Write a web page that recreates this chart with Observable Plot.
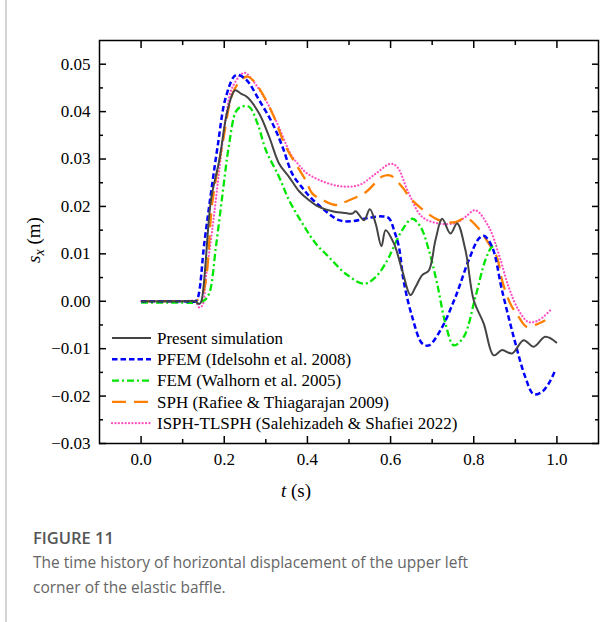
<!DOCTYPE html>
<html>
<head>
<meta charset="utf-8">
<script src="https://cdn.jsdelivr.net/npm/d3@7"></script>
<script src="https://cdn.jsdelivr.net/npm/@observablehq/plot@0.6"></script>
<style>
  html, body { margin: 0; padding: 0; background: #fff; }
  #wrap { position: relative; width: 613px; height: 622px; overflow: hidden; }
  #edge { position: absolute; left: 5px; top: 0; width: 1.5px; height: 622px; background: #d4d4d4; }
  #chart { position: absolute; left: 0; top: 0; }
  #cap { position: absolute; left: 33px; top: 526px; width: 560px; }
  #cap .fig { font-family: "Open Sans", sans-serif; font-weight: 600; font-size: 16.5px; color: #555; line-height: 24px; }
  #cap .txt { font-family: "Open Sans", sans-serif; font-weight: 400; font-size: 15.5px; color: #666; line-height: 25px; }
</style>
</head>
<body>
<div id="wrap">
  <div id="edge"></div>
  <div id="chart"></div>
  <div id="cap">
    <div class="fig">FIGURE 11</div>
    <div class="txt">The time history of horizontal displacement of the upper left<br>corner of the elastic baffle.</div>
  </div>
</div>
<script>
// ---- data (t in s, s_x in m) ----
const seriesNames = [
  "Present simulation",
  "PFEM (Idelsohn et al. 2008)",
  "FEM (Walhorn et al. 2005)",
  "SPH (Rafiee & Thiagarajan 2009)",
  "ISPH-TLSPH (Salehizadeh & Shafiei 2022)"
];

const presentT = [0, 0.05, 0.10, 0.13, 0.14, 0.145, 0.168, 0.188, 0.208, 0.226, 0.24, 0.255, 0.284, 0.308, 0.332, 0.356, 0.38, 0.404, 0.428, 0.46, 0.492, 0.508, 0.516, 0.536, 0.55, 0.564, 0.578, 0.588, 0.608, 0.628, 0.648, 0.66, 0.676, 0.692, 0.708, 0.724, 0.744, 0.76, 0.78, 0.80, 0.824, 0.848, 0.868, 0.892, 0.92, 0.944, 0.972, 1.0];
const presentS = [0, 0, 0, 0, -0.0006, 0, 0.0213, 0.0297, 0.0403, 0.0445, 0.0438, 0.0431, 0.0396, 0.0347, 0.029, 0.0262, 0.0232, 0.0213, 0.0199, 0.019, 0.0186, 0.0185, 0.019, 0.0171, 0.0194, 0.0164, 0.0116, 0.015, 0.0122, 0.0065, 0.0013, 0.003, 0.0055, 0.0065, 0.0129, 0.0174, 0.0143, 0.0164, 0.0108, 0.0002, -0.0047, -0.0114, -0.0103, -0.011, -0.0082, -0.0096, -0.0075, -0.0088];

const pfemT = [0, 0.10, 0.13, 0.136, 0.152, 0.168, 0.184, 0.204, 0.228, 0.252, 0.284, 0.316, 0.34, 0.364, 0.389, 0.404, 0.436, 0.476, 0.508, 0.548, 0.58, 0.596, 0.61, 0.62, 0.632, 0.652, 0.676, 0.692, 0.72, 0.756, 0.788, 0.812, 0.824, 0.844, 0.868, 0.896, 0.924, 0.944, 0.964, 0.98, 0.996];
const pfemS = [0, 0, 0, 0.0006, 0.0122, 0.0228, 0.0326, 0.0431, 0.0477, 0.0468, 0.0424, 0.0375, 0.0326, 0.0268, 0.0238, 0.0222, 0.0196, 0.0171, 0.0169, 0.0176, 0.0179, 0.0175, 0.0145, 0.0115, 0.0040, -0.0033, -0.0089, -0.0093, -0.0061, 0.0009, 0.0087, 0.0132, 0.0138, 0.0115, 0.0023, -0.0075, -0.016, -0.0196, -0.0191, -0.0174, -0.0146];

const femT = [0, 0.10, 0.13, 0.152, 0.164, 0.18, 0.196, 0.212, 0.228, 0.24, 0.26, 0.28, 0.30, 0.332, 0.356, 0.388, 0.42, 0.452, 0.492, 0.536, 0.564, 0.592, 0.604, 0.628, 0.652, 0.672, 0.692, 0.712, 0.732, 0.752, 0.776, 0.804, 0.828, 0.844, 0.855];
const femS = [-0.0003, -0.0003, -0.0003, 0.0002, 0.0017, 0.0115, 0.0227, 0.0333, 0.040, 0.041, 0.041, 0.0375, 0.0319, 0.0262, 0.0213, 0.0164, 0.0122, 0.0093, 0.0058, 0.0037, 0.0051, 0.0086, 0.0108, 0.015, 0.0174, 0.0157, 0.0108, 0.0037, -0.0047, -0.0093, -0.0075, 0.0009, 0.0087, 0.0115, 0.0118];

const sphT = [0, 0.10, 0.13, 0.148, 0.172, 0.196, 0.22, 0.24, 0.256, 0.276, 0.316, 0.348, 0.396, 0.412, 0.44, 0.468, 0.492, 0.54, 0.58, 0.60, 0.628, 0.652, 0.716, 0.756, 0.782, 0.808, 0.836, 0.856, 0.868, 0.888, 0.908, 0.928, 0.956, 0.972];
const sphS = [0, 0, 0, 0.0016, 0.0213, 0.0333, 0.0438, 0.0466, 0.0474, 0.0459, 0.0396, 0.0326, 0.0255, 0.0227, 0.0212, 0.0203, 0.021, 0.023, 0.0263, 0.0265, 0.0241, 0.0213, 0.0171, 0.0167, 0.0176, 0.0157, 0.0122, 0.0092, 0.0044, -0.0005, -0.0033, -0.0054, -0.0047, -0.004];

const isphT = [0, 0.10, 0.13, 0.14, 0.148, 0.156, 0.172, 0.188, 0.204, 0.22, 0.248, 0.268, 0.30, 0.332, 0.36, 0.38, 0.396, 0.428, 0.476, 0.524, 0.564, 0.60, 0.616, 0.644, 0.676, 0.716, 0.756, 0.78, 0.804, 0.836, 0.86, 0.884, 0.908, 0.932, 0.956, 0.984];
const isphS = [0, 0, 0, -0.0013, -0.0008, 0.0051, 0.0157, 0.0276, 0.0389, 0.0452, 0.0482, 0.0466, 0.0424, 0.0366, 0.031, 0.0287, 0.0272, 0.0256, 0.0243, 0.0245, 0.0269, 0.029, 0.0283, 0.0227, 0.0178, 0.0164, 0.0165, 0.0178, 0.0192, 0.0157, 0.01, 0.003, -0.0019, -0.0044, -0.004, -0.0019];

const xMajor = [0, 0.2, 0.4, 0.6, 0.8, 1.0];
const xMinor = [0.1, 0.3, 0.5, 0.7, 0.9];
const yMajor = [-0.03, -0.02, -0.01, 0, 0.01, 0.02, 0.03, 0.04, 0.05];
const yMinor = [-0.025, -0.015, -0.005, 0.005, 0.015, 0.025, 0.035, 0.045];

// ---- styles ----
const styles = [
  {stroke: "#444444", strokeWidth: 2, dash: null, cap: "butt"},
  {stroke: "#0000ff", strokeWidth: 2.5, dash: "5.5,3", cap: "butt"},
  {stroke: "#00e600", strokeWidth: 2.3, dash: "7,3,2,3", cap: "butt"},
  {stroke: "#ff8000", strokeWidth: 2.3, dash: "14,8", cap: "butt"},
  {stroke: "#ff4fc3", strokeWidth: 2.2, dash: "0.1,3.3", cap: "round"}
];

const toRows = (T, S) => T.map((t, i) => ({t, s: S[i]}));
const datasets = [
  toRows(presentT, presentS),
  toRows(pfemT, pfemS),
  toRows(femT, femS),
  toRows(sphT, sphS),
  toRows(isphT, isphS)
];

const fmtY = d3.format(".2f");
const fmtX = d3.format(".1f");
const blank = () => "";

const lineMarks = datasets.map((rows, i) =>
  Plot.line(rows, {
    x: "t", y: "s",
    stroke: styles[i].stroke,
    strokeWidth: styles[i].strokeWidth,
    strokeDasharray: styles[i].dash,
    strokeLinecap: styles[i].cap,
    curve: "catmull-rom"
  })
);

const chart = Plot.plot({
  width: 613,
  height: 510,
  marginLeft: 99,
  marginRight: 15,
  marginTop: 40,
  marginBottom: 67,
  style: {fontFamily: "'Liberation Serif', 'Times New Roman', serif", fontSize: "17px", color: "#000", background: "transparent"},
  x: {domain: [-0.1, 1.1]},
  y: {domain: [-0.03, 0.055]},
  marks: [
    lineMarks[4], lineMarks[3], lineMarks[2], lineMarks[1], lineMarks[0],
    Plot.frame({stroke: "#000", strokeWidth: 1.5}),
    Plot.axisX({anchor: "bottom", ticks: xMajor, tickSize: -7, tickPadding: 16, tickFormat: fmtX, label: null, strokeWidth: 1.5}),
    Plot.axisX({anchor: "bottom", ticks: xMinor, tickSize: -4, tickFormat: blank, label: null, strokeWidth: 1.5}),
    Plot.axisX({anchor: "top", ticks: xMajor, tickSize: -7, tickFormat: blank, label: null, strokeWidth: 1.5}),
    Plot.axisX({anchor: "top", ticks: xMinor, tickSize: -4, tickFormat: blank, label: null, strokeWidth: 1.5}),
    Plot.axisY({anchor: "left", ticks: yMajor, tickSize: -7, tickPadding: 16, tickFormat: fmtY, label: null, strokeWidth: 1.5}),
    Plot.axisY({anchor: "left", ticks: yMinor, tickSize: -4, tickFormat: blank, label: null, strokeWidth: 1.5}),
    Plot.axisY({anchor: "right", ticks: yMajor, tickSize: -7, tickFormat: blank, label: null, strokeWidth: 1.5}),
    Plot.axisY({anchor: "right", ticks: yMinor, tickSize: -4, tickFormat: blank, label: null, strokeWidth: 1.5})
  ]
});

document.getElementById("chart").appendChild(chart);

// ---- axis titles and legend ----
const svg = d3.select(chart);
const serif = "'Liberation Serif', 'Times New Roman', serif";

const yl = svg.append("text")
  .attr("transform", "translate(40,240) rotate(-90)")
  .attr("text-anchor", "middle")
  .attr("font-family", serif).attr("font-size", 19).attr("fill", "#000");
yl.append("tspan").attr("font-style", "italic").text("s");
yl.append("tspan").attr("font-style", "italic").attr("font-size", 14).attr("dy", 4).text("x");
yl.append("tspan").attr("dy", -4).text(" (m)");

const xl = svg.append("text")
  .attr("x", 296).attr("y", 497)
  .attr("text-anchor", "middle")
  .attr("font-family", serif).attr("font-size", 19).attr("fill", "#000");
xl.append("tspan").attr("font-style", "italic").text("t");
xl.append("tspan").text(" (s)");

const leg = svg.append("g").attr("text-anchor", "start");
seriesNames.forEach((name, i) => {
  const y = 338 + i * 21.3;
  leg.append("line")
    .attr("x1", 112).attr("x2", 151).attr("y1", y).attr("y2", y)
    .attr("stroke", styles[i].stroke)
    .attr("stroke-width", styles[i].strokeWidth)
    .attr("stroke-dasharray", styles[i].dash)
    .attr("stroke-linecap", styles[i].cap);
  leg.append("text")
    .attr("x", 157).attr("y", y).attr("dy", "0.33em")
    .attr("text-anchor", "start")
    .attr("font-family", serif).attr("font-size", 17).attr("fill", "#000")
    .text(name);
});
</script>
</body>
</html>
